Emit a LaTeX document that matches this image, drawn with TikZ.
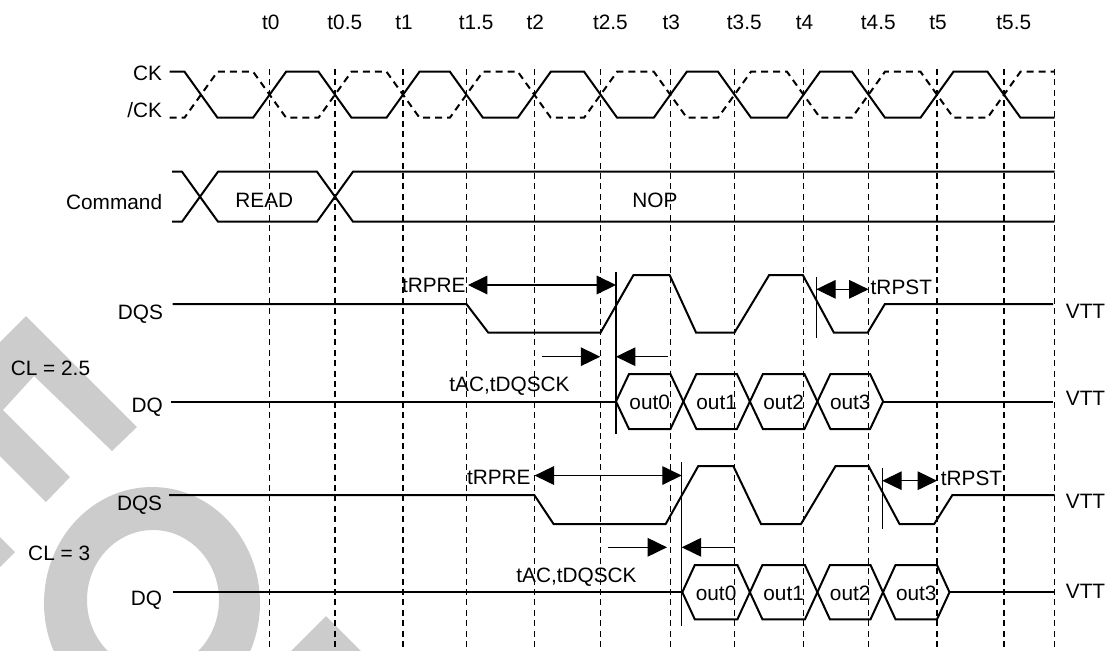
\documentclass[tikz,border=0pt]{standalone}
\usepackage{fontspec}
\setmainfont{Liberation Sans}
\usetikzlibrary{arrows.meta}
\definecolor{wmgray}{gray}{0.8}
\begin{document}
\begin{tikzpicture}[x=0.5pt,y=-0.5pt,
  lbl/.style={font=\fontsize{10.4}{12}\selectfont, inner sep=0pt, text height=7.45pt, text depth=0pt},
  sig/.style={line width=1pt},
  gridline/.style={line width=0.7pt, dash pattern=on 3pt off 2.2pt},
  ckbar/.style={line width=1pt, dash pattern=on 3.5pt off 2.5pt},
  thinline/.style={line width=0.6pt},
  dim/.style={line width=0.6pt},
  tri/.tip={Triangle[length=9.7pt,width=9.3pt]}]
\useasboundingbox (0,0) rectangle (1109,650);
% watermark
\begin{scope}
\clip (0,0) rectangle (1109,650);
\fill[wmgray] (26,316) -- (137,427) -- (112,451) -- (34,376) -- (3,410) -- (70,477) -- (46,502) -- (-57,399) -- cycle;
\fill[wmgray] (-10,527) -- (15,552) -- (-10,577) -- cycle;
\fill[wmgray, even odd rule] (152,603) ellipse [x radius=108, y radius=116] (153,600) ellipse [x radius=66, y radius=70];
\fill[wmgray] (326,616) -- (362,652) -- (290,652) -- cycle;
\end{scope}
% grid lines and time labels
\foreach \x in {269.6,335,403,466.4,534.3,600.6,670.3,734.5,803.5,868.5,937,1004,1054.6}
  \draw[gridline] (\x,69) -- (\x,650);
\foreach \x/\t [count=\i] in {269.6/t0,335/t0.5,403/t1,466.4/t1.5,534.3/t2,600.6/t2.5,670.3/t3,734.5/t3.5,803.5/t4,868.5/t4.5,937/t5,1004/t5.5}
  \node[lbl,anchor=west] (tl\i) at ({\x-8},21.7) {\t};
% clock
\def\ckH{71.7}\def\ckL{117.7}
\node[lbl,anchor=east] (ck) at (162.5,73.3) {CK};
\node[lbl,anchor=east] (nck) at (162.5,110) {/CK};
\draw[sig] (169.6,\ckH)--(184.5,\ckH)--(217.5,\ckL)--(253.1,\ckL)--(286.1,\ckH)--(318.5,\ckH)--(351.5,\ckL)--(386.5,\ckL)--(419.5,\ckH)--(449.9,\ckH)--(482.9,\ckL)--(517.8,\ckL)--(550.8,\ckH)--(584.1,\ckH)--(617.1,\ckL)--(653.8,\ckL)--(686.8,\ckH)--(718,\ckH)--(751,\ckL)--(787,\ckL)--(820,\ckH)--(852,\ckH)--(885,\ckL)--(920.5,\ckL)--(953.5,\ckH)--(987.5,\ckH)--(1020.5,\ckL)--(1054.6,\ckL);
\draw[ckbar] (169.6,\ckL)--(184.5,\ckL)--(217.5,\ckH)--(253.1,\ckH)--(286.1,\ckL)--(318.5,\ckL)--(351.5,\ckH)--(386.5,\ckH)--(419.5,\ckL)--(449.9,\ckL)--(482.9,\ckH)--(517.8,\ckH)--(550.8,\ckL)--(584.1,\ckL)--(617.1,\ckH)--(653.8,\ckH)--(686.8,\ckL)--(718,\ckL)--(751,\ckH)--(787,\ckH)--(820,\ckL)--(852,\ckL)--(885,\ckH)--(920.5,\ckH)--(953.5,\ckL)--(987.5,\ckL)--(1020.5,\ckH)--(1054.6,\ckH);
% command bus
\def\bT{171.7}\def\bB{221.7}
\node[lbl,anchor=east] (cmd) at (162.5,201.7) {Command};
\draw[sig] (172,\bT)--(182,\bT)--(218,\bB)--(317,\bB)--(353,\bT)--(1054.6,\bT);
\draw[sig] (172,\bB)--(182,\bB)--(218,\bT)--(317,\bT)--(353,\bB)--(1054.6,\bB);
\node[lbl] (read) at (264.3,200.5) {READ};
\node[lbl] (nop) at (655,200) {NOP};
% ---------------- CL = 2.5
\node[lbl,anchor=east] (cl25) at (90.5,368.3) {CL = 2.5};
\node[lbl,anchor=east] (dqs1) at (163.3,311.7) {DQS};
\node[lbl,anchor=east] (dq1) at (163.3,405) {DQ};
\node[lbl,anchor=west] (vtt1) at (1065.5,310.7) {VTT};
\node[lbl,anchor=west] (vtt2) at (1065.5,398) {VTT};
\draw[sig] (172.5,304)--(466.4,304)--(488.2,332.5)--(600.6,332.5)--(633.5,275)--(669.6,275)--(696,332.5)--(734.5,332.5)--(769.2,275)--(802.8,275)--(833.8,332.5)--(867.7,332.5)--(884.9,304)--(1053,304);
\draw[thinline] (616,272) -- (616,434);
\draw[thinline] (816.3,276.7) -- (816.3,338.3);
\coordinate (pre1a) at (468,285);
\coordinate (pre1b) at (616,285);
\draw[dim,{tri}-{tri}] (pre1a) -- (pre1b);
\node[lbl,anchor=east] (rpre1) at (466,285) {tRPRE};
\coordinate (pst1a) at (816.3,289.3);
\coordinate (pst1b) at (868.5,289.3);
\draw[dim,{tri}-{tri}] (pst1a) -- (pst1b);
\node[lbl,anchor=west] (rpst1) at (870.3,287.3) {tRPST};
\coordinate (ac1a) at (541.7,356.7);
\coordinate (ac1b) at (600.2,356.7);
\coordinate (ac1c) at (668.3,356.7);
\coordinate (ac1d) at (616,356.7);
\draw[dim,-{tri}] (ac1a) -- (ac1b);
\draw[dim,-{tri}] (ac1c) -- (ac1d);
\node[lbl] (tac1) at (509.5,384) {tAC,tDQSCK};
\draw[sig] (170.7,401.5) -- (616,401.5);
\foreach \a/\b/\t [count=\i] in {616/683.4/out0,683.4/749.9/out1,749.9/817.4/out2,817.4/883.1/out3}{
  \draw[sig] (\a,401.5) -- ({\a+13},374) -- ({\b-13},374) -- (\b,401.5) -- ({\b-13},429) -- ({\a+13},429) -- cycle;
  \node[lbl] (oa\i) at ({(\a+\b)/2},402) {\t};
}
\draw[sig] (883.1,401.5) -- (1053,401.5);
% ---------------- CL = 3
\node[lbl,anchor=east] (cl3) at (90.5,552.7) {CL = 3};
\node[lbl,anchor=east] (dqs2) at (162.5,503.3) {DQS};
\node[lbl,anchor=east] (dq2) at (162.5,598.3) {DQ};
\node[lbl,anchor=west] (vtt3) at (1065.5,500.7) {VTT};
\node[lbl,anchor=west] (vtt4) at (1065.5,590.7) {VTT};
\draw[sig] (169,495)--(534.3,495)--(553.6,524)--(665.7,524)--(698.3,466)--(733.3,466)--(761,524)--(801,524)--(835.6,466)--(868.5,466)--(899.5,524)--(934.2,524)--(952.4,495)--(1054.6,495);
\draw[thinline] (681.7,462) -- (681.7,626);
\draw[thinline] (882.3,468.3) -- (882.3,529.3);
\coordinate (pre2a) at (534.6,475.5);
\coordinate (pre2b) at (681.7,475.5);
\draw[dim,{tri}-{tri}] (pre2a) -- (pre2b);
\node[lbl,anchor=east] (rpre2) at (531,477) {tRPRE};
\coordinate (pst2a) at (882.3,480.7);
\coordinate (pst2b) at (937,480.7);
\draw[dim,{tri}-{tri}] (pst2a) -- (pst2b);
\node[lbl,anchor=west] (rpst2) at (940.5,478.3) {tRPST};
\coordinate (ac2a) at (608.2,547.3);
\coordinate (ac2b) at (667,547.3);
\coordinate (ac2c) at (734,547.3);
\coordinate (ac2d) at (681.7,547.3);
\draw[dim,-{tri}] (ac2a) -- (ac2b);
\draw[dim,-{tri}] (ac2c) -- (ac2d);
\node[lbl] (tac2) at (576.5,575.5) {tAC,tDQSCK};
\draw[sig] (173,592.2) -- (682.3,592.2);
\foreach \a/\b/\t [count=\i] in {682.3/749.9/out0,749.9/817.4/out1,817.4/883/out2,883/949.5/out3}{
  \draw[sig] (\a,592.2) -- ({\a+12.5},565) -- ({\b-12.5},565) -- (\b,592.2) -- ({\b-12.5},619.3) -- ({\a+12.5},619.3) -- cycle;
  \node[lbl] (ob\i) at ({(\a+\b)/2},593) {\t};
}
\draw[sig] (949.5,592.2) -- (1054.6,592.2);
\end{tikzpicture}
\end{document}
